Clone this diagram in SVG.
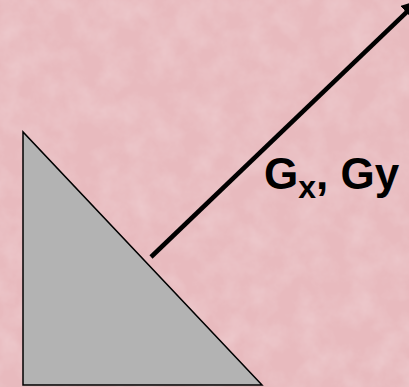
<svg xmlns="http://www.w3.org/2000/svg" width="409" height="387" viewBox="0 0 409 387">
  <defs>
    <style>
      .label { font-family: "Liberation Sans", Arial, sans-serif; font-weight: bold; fill: #000; }
      .conn { stroke: #000; stroke-width: 4.5; fill: none; }
    </style>
    <filter id="tex" x="0" y="0" width="100%" height="100%">
      <feTurbulence type="fractalNoise" baseFrequency="0.04" numOctaves="4" seed="3" result="n"/>
      <feColorMatrix type="matrix" in="n" values="0 0 0 0 1  0 0 0 0 1  0 0 0 0 1  0 0 0 0.35 -0.12" />
    </filter>
    <marker id="head" viewBox="0 0 10 10" refX="2" refY="5" markerWidth="4" markerHeight="4" orient="auto" markerUnits="strokeWidth">
      <path d="M0,0 L10,5 L0,10 Z" fill="#000"/>
    </marker>
  </defs>
  <rect id="background" x="0" y="0" width="409" height="387" fill="#e8babe"/>
  <rect x="0" y="0" width="409" height="387" filter="url(#tex)"/>
  <g id="triangle">
    <polygon points="23,132 23,385 262,385" fill="#b3b3b3" stroke="#000" stroke-width="1.5"/>
  </g>
  <g id="connectors">
    <line class="conn" x1="151" y1="257" x2="409" y2="10" marker-end="url(#head)"/>
  </g>
  <g id="label">
    <text class="label" x="264" y="189" font-size="44">G<tspan font-size="32" dy="9">x</tspan><tspan dy="-9">, Gy</tspan></text>
  </g>
</svg>
